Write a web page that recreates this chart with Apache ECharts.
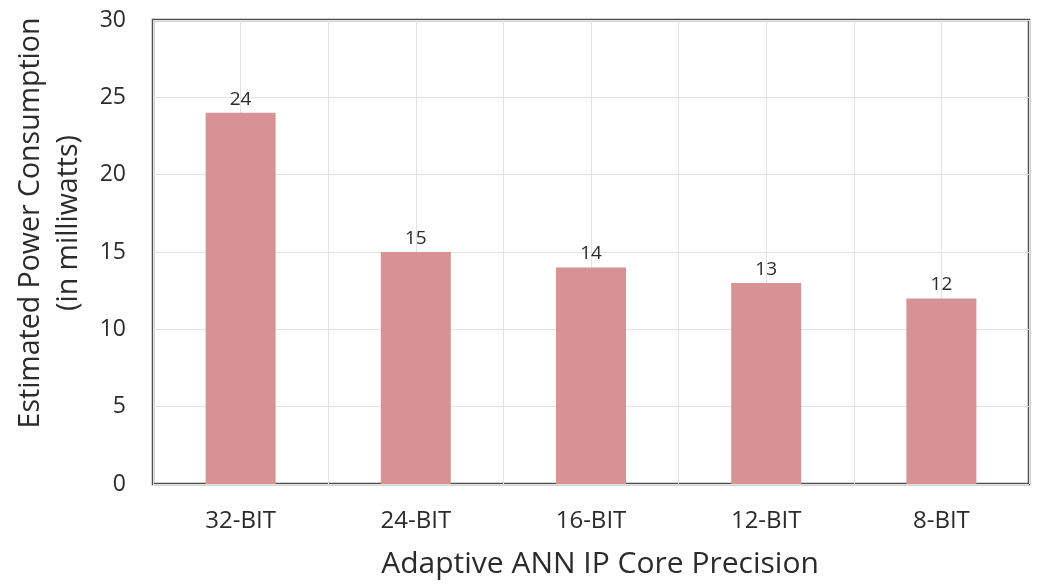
<!DOCTYPE html>
<html><head><meta charset="utf-8">
<script src="https://cdn.jsdelivr.net/npm/echarts@6/dist/echarts.min.js"></script>
<style>html,body{margin:0;padding:0;background:#fff}#c{width:1052px;height:584px}</style>
</head><body><div id="c"></div>
<script>
const categories = ['32-BIT','24-BIT','16-BIT','12-BIT','8-BIT'];
const powerValues = [24, 15, 14, 13, 12];
const yTicks = [0, 5, 10, 15, 20, 25, 30];
const yTitle = 'Estimated Power Consumption\n(in milliwatts)';
const xTitle = 'Adaptive ANN IP Core Precision';

const chart = echarts.init(document.getElementById('c'));
const font = 'Open Sans';
const txt = '#2b2b2b';
chart.setOption({
  animation: false,
  grid: {left: 153, right: 23, top: 20, bottom: 100, show: true, borderColor: '#4d4d4d', borderWidth: 2.5, containLabel: false},
  graphic: [{
    type: 'text', x: 50, y: 223, rotation: Math.PI / 2,
    style: {text: yTitle, fontFamily: font, fontSize: 28.5, fill: txt, lineHeight: 38, align: 'center', verticalAlign: 'middle'}
  }],
  xAxis: [{
    type: 'category', data: categories, position: 'bottom',
    axisLine: {show: false}, axisTick: {show: false},
    axisLabel: {fontFamily: font, fontSize: 24, color: txt, margin: 25},
    splitLine: {show: false},
    name: xTitle, nameLocation: 'middle', nameGap: 65,
    nameTextStyle: {fontFamily: font, fontSize: 30, color: txt, padding: [0, 0, 0, 18]}
  }, {
    type: 'value', min: 0, max: 10, interval: 1, position: 'top',
    axisLine: {show: false}, axisTick: {show: false}, axisLabel: {show: false},
    splitLine: {show: true, lineStyle: {color: '#e3e3e3', width: 1}}
  }],
  yAxis: {
    type: 'value', min: yTicks[0], max: yTicks[yTicks.length-1], interval: 5,
    axisLine: {show: false}, axisTick: {show: false},
    axisLabel: {fontFamily: font, fontSize: 23, color: txt, margin: 27},
    splitLine: {show: true, lineStyle: {color: '#e3e3e3', width: 1}}
  },
  series: [{
    type: 'bar', data: powerValues, xAxisIndex: 0, barWidth: 70,
    itemStyle: {color: '#d69294'},
    label: {show: true, position: 'top', fontFamily: font, fontSize: 19, color: txt, distance: 4}
  }]
});
</script></body></html>
